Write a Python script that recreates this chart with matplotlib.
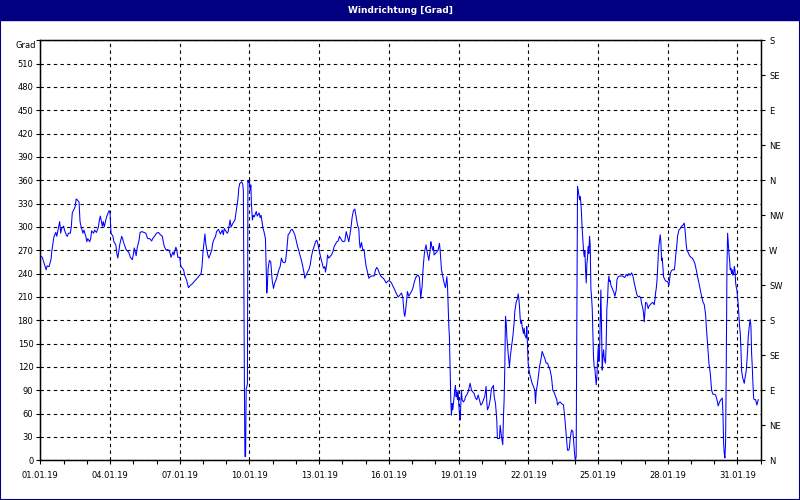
import numpy as np
import pandas as pd
import matplotlib
matplotlib.use("Agg")
import matplotlib.pyplot as plt
from matplotlib.patches import Rectangle
from matplotlib.ticker import MultipleLocator

# wind direction: hours since 01.01.19 00:00 -> degrees
hours_a = [0, 2, 5, 6, 7, 9, 11, 12, 14, 16, 17, 19, 20, 21, 22, 24, 25, 27, 28, 29,
           31, 32, 33, 36, 37, 38, 40, 41, 42, 44, 45, 47, 48, 49, 51, 52, 53, 55, 56, 58,
           60, 61, 62, 64, 65, 66, 68, 69, 71, 72, 73, 75, 76, 78, 79, 80, 81, 82, 84, 85,
           86, 88, 89, 91, 92, 93, 95, 96, 97, 99, 100, 102, 103, 105, 107, 109, 110, 111, 113, 115,
           116, 118, 120, 122, 124, 126, 127, 128, 130, 131, 133, 134, 135, 137, 138, 140, 141, 142, 144, 145,
           146, 148, 149, 151, 153, 155, 157, 159, 162, 164, 166, 167, 168, 170, 171, 173, 174, 175, 177, 178,
           179, 181, 182, 184]
grad_a = [263, 261, 249, 245, 250, 249, 258, 270, 287, 293, 288, 301, 307, 292, 298, 301, 296, 289, 288, 292,
          292, 300, 318, 326, 336, 335, 332, 307, 301, 292, 296, 288, 281, 285, 281, 285, 295, 292, 296, 293,
          300, 309, 314, 301, 307, 300, 311, 315, 321, 318, 292, 288, 281, 277, 266, 260, 268, 277, 288, 285,
          280, 273, 270, 268, 265, 261, 258, 264, 273, 263, 273, 283, 293, 294, 293, 292, 288, 285, 285, 282,
          285, 288, 292, 293, 290, 288, 281, 275, 270, 271, 270, 266, 261, 268, 264, 274, 270, 261, 261, 250,
          248, 245, 238, 232, 222, 225, 227, 230, 234, 237, 240, 249, 268, 291, 277, 264, 260, 263, 270, 279,
          283, 288, 294, 297]

hours_b = [186, 188, 189, 190, 193, 194, 196, 197, 199, 201, 202, 204, 205, 206, 208, 209, 209.7, 210.8, 211.3, 212.0,
           212.6, 213.4, 213.9, 214.4, 215.3, 216.0, 216.7, 217.4, 218, 219, 220, 221, 223, 224, 226, 227, 228, 230, 231, 232.5,
           233.2, 233.9, 234.6, 235.3, 236.6, 238.0, 239.4, 240.8, 242.1, 243.5, 244.9, 246.3, 247.7, 249.0, 250.4, 251.8, 253.2, 254.5, 255.9, 257.3,
           258.7, 260.1, 261.4, 262.8, 264.2, 265.6, 266.9, 268.3, 269.7, 271.1, 272.5, 273.1, 274.5, 275.9, 277.3, 278.7, 280.0, 281.4, 282.8, 284.2,
           285.5, 286.9, 288.3, 289.7, 291.1, 292.4, 293.8, 294.5, 295.9, 296.6, 297.9, 299.3, 300.7, 302.1, 303.5, 304.8, 306.2, 307.6, 309.0, 310.3,
           311.7, 313.1, 314.5, 315.9, 317.2, 318.6, 320.0, 320.7, 322.1, 323.4, 324.8, 326.2, 327.6, 328.9, 329.6, 330.3, 331.7, 333.1, 334.4, 335.1,
           336.5, 337.9, 339.3, 340.6, 342.0, 343.4, 344.8, 346.2, 347.5, 348.9, 350.3, 351.7, 353.0, 354.4, 355.8, 357.2, 358.6, 359.9, 361.3, 362.7,
           364.1, 365.4, 366.8, 368.2, 369.6]
grad_b = [291, 296, 290, 298, 292, 294, 309, 300, 305, 309, 318, 335, 350, 356, 358, 355, 347, 92, 5, 5,
          92, 95, 99, 359, 357, 359, 347, 354, 330, 309, 315, 313, 320, 314, 318, 312, 315, 298, 294, 285,
          249, 215, 228, 247, 257, 255, 232, 221, 228, 232, 238, 245, 249, 260, 255, 254, 255, 270, 290, 292,
          296, 297, 294, 290, 283, 275, 270, 263, 257, 249, 240, 234, 238, 242, 245, 251, 262, 270, 275, 281,
          283, 277, 268, 260, 253, 247, 249, 242, 253, 264, 260, 262, 264, 268, 275, 278, 281, 282, 288, 285,
          282, 281, 282, 294, 288, 281, 292, 298, 313, 321, 323, 313, 302, 298, 281, 273, 280, 270, 271, 262,
          249, 242, 234, 236, 237, 237, 237, 245, 248, 245, 240, 237, 235, 234, 231, 228, 230, 231, 230, 228,
          224, 221, 217, 213, 210]

hours_c = [371.6, 373.0, 374.3, 375.7, 376.4, 377.1, 378.5, 379.1, 380.5, 381.9, 383.3, 384.7, 386.0, 387.4, 388.8, 390.2, 391.5, 392.2, 392.9, 393.6,
           394.3, 395.0, 395.7, 396.4, 397.1, 398.4, 399.1, 400.5, 401.2, 402.6, 403.3, 403.9, 405.3, 406.0, 406.7, 408.1, 409.5, 410.8, 412.2, 412.9,
           413.6, 414.3, 415.7, 417.0, 417.7, 418.4, 419.1, 419.8, 420.5, 421.2, 421.9, 422.5, 423.2, 423.9, 424.6, 425.3, 426.0, 426.7, 427.4, 428.0,
           428.7, 429.4, 430.1, 430.8, 431.5, 432.2, 432.9, 433.6, 434.2, 434.9, 435.6, 437.0, 438.4, 439.1, 440.4, 441.8, 443.2, 443.9, 445.3, 446.6,
           448.0, 449.4, 450.8, 452.2, 453.5, 454.9, 456.3, 457.7, 459.0, 460.4, 461.1, 461.8, 463.2, 464.6, 465.9, 467.3, 468.0, 468.7, 470.1, 471.4,
           472.1, 473.5, 474.2, 474.9, 476.3, 477.6, 478.3, 479.0, 479.7, 480.4, 481.1, 481.8, 483.2, 484.5, 485.2, 486.6, 488.0, 489.4, 490.0, 491.4,
           492.8, 493.5, 494.2, 494.9, 495.6, 496.2, 496.9, 497.6, 499.0, 499.7, 500.4, 501.8, 502.4, 503.1, 503.8, 505.2, 506.6, 507.9, 509.3, 510.7,
           511.4, 512.1, 513.5, 514.1, 515.5, 516.9, 518.3, 519.7, 521.0, 522.4, 523.8, 525.2, 526.5, 527.9, 529.3, 530.7, 532.1, 533.4, 534.1, 535.5,
           536.9, 538.3, 540.3, 541.7, 542.4, 543.8, 544.5, 545.8, 546.5, 547.2, 548.6, 550.0, 550.7, 551.3, 552.0, 552.7, 553.4, 554.1, 554.8, 555.5]
grad_c = [213, 215, 210, 189, 185, 191, 208, 217, 211, 214, 217, 221, 228, 234, 237, 238, 235, 222, 208, 217,
          223, 240, 253, 263, 270, 277, 270, 262, 257, 270, 281, 277, 270, 275, 264, 266, 268, 270, 279, 270,
          257, 245, 236, 228, 225, 222, 228, 236, 225, 200, 172, 159, 116, 78, 58, 73, 65, 73, 82, 90,
          96, 82, 88, 78, 90, 71, 60, 52, 69, 90, 78, 75, 78, 82, 84, 88, 95, 99, 90, 88,
          86, 80, 78, 84, 78, 71, 73, 78, 82, 95, 75, 65, 69, 78, 92, 95, 96, 82, 73, 52,
          28, 28, 28, 45, 30, 20, 56, 78, 120, 185, 178, 159, 137, 120, 131, 146, 159, 178, 191, 203,
          208, 214, 208, 197, 182, 176, 180, 172, 163, 170, 161, 157, 172, 150, 125, 112, 105, 99, 95, 90,
          73, 88, 99, 105, 120, 129, 140, 135, 131, 125, 125, 120, 116, 107, 90, 87, 82, 78, 71, 74,
          75, 73, 71, 54, 43, 22, 13, 13, 17, 28, 39, 37, 26, 17, 5, 0, 5, 185, 352, 347]

hours_d = [556.9, 557.6, 558.3, 558.9, 559.6, 560.3, 561.0, 561.7, 562.4, 563.1, 563.8, 564.5, 565.1, 565.8, 566.5, 567.2, 567.9, 568.6, 569.3, 570.0,
           570.7, 571.3, 572.0, 572.7, 573.4, 574.1, 574.8, 575.5, 576.2, 576.9, 577.5, 578.2, 578.9, 579.6, 580.3, 581.0, 581.7, 582.4, 583.1, 583.7,
           584.4, 585.1, 585.8, 586.5, 587.2, 587.9, 588.6, 589.3, 590.6, 592.0, 593.4, 594.8, 595.5, 596.8, 598.2, 599.6, 601.0, 602.3, 603.7, 605.1,
           606.5, 607.8, 609.2, 610.6, 612.0, 613.4, 614.7, 616.1, 617.5, 618.9, 620.2, 620.9, 622.3, 623.0, 623.7, 624.4, 625.1, 626.4, 627.8, 628.5,
           629.9, 631.3, 632.6, 634.0, 634.7, 635.4, 636.1, 636.8, 637.5, 638.2, 638.8, 639.5, 640.2, 640.9, 641.6, 642.3, 643.0, 643.7, 645.0, 646.4,
           647.8, 649.2, 649.9, 650.6, 651.9, 653.3, 654.7, 655.4, 656.1, 656.8, 657.4, 658.1, 658.8, 659.5, 660.9, 662.3, 663.6, 665.0, 665.7, 666.4,
           667.1, 667.8, 669.2, 670.5, 671.9, 673.3, 674.7, 676.0, 677.4, 678.8, 680.2, 681.6, 682.9, 684.3, 685.7, 687.1, 687.8, 689.1, 690.5, 691.9,
           693.3, 694.6, 696.0, 697.4, 698.8, 700.1, 701.5, 702.9, 704.3, 705.0, 705.7, 706.3, 707.0, 707.7, 708.4, 709.1, 709.8, 710.5, 711.2, 711.9,
           712.5, 713.2, 713.9, 714.6, 715.3, 716.0, 716.7, 717.4, 718.1, 718.7, 719.4, 720.1, 720.8, 721.5, 722.2, 722.9, 723.6, 724.3, 725.6, 727.0,
           727.7, 729.1, 729.8, 730.5, 731.1, 731.8, 732.5, 733.2, 733.9, 734.6, 735.3, 736.0, 736.7, 737.3, 738.7, 740.1, 740.8, 741.5]
grad_d = [335, 339, 330, 317, 298, 285, 270, 262, 270, 245, 228, 253, 260, 275, 266, 288, 277, 221, 210, 195,
          159, 133, 120, 118, 107, 97, 107, 129, 146, 127, 137, 180, 219, 172, 116, 133, 142, 131, 127, 125,
          150, 195, 206, 228, 237, 230, 231, 225, 221, 217, 211, 219, 232, 236, 237, 237, 237, 236, 235, 239,
          237, 240, 238, 241, 237, 228, 221, 213, 210, 211, 208, 202, 195, 189, 178, 191, 203, 202, 195, 198,
          200, 202, 203, 200, 206, 215, 221, 230, 245, 264, 275, 282, 290, 281, 257, 260, 247, 236, 232, 230,
          230, 225, 232, 240, 244, 245, 245, 251, 262, 270, 277, 288, 292, 296, 298, 301, 302, 305, 298, 288,
          277, 270, 267, 263, 261, 260, 257, 253, 245, 236, 228, 219, 211, 204, 200, 187, 172, 150, 125, 112,
          90, 85, 85, 84, 78, 70, 75, 78, 80, 60, 22, 9, 3, 22, 116, 245, 292, 279, 266, 257,
          245, 247, 240, 245, 238, 240, 249, 245, 228, 223, 219, 210, 200, 185, 172, 163, 142, 114, 105, 99,
          105, 116, 129, 142, 159, 168, 176, 181, 172, 137, 120, 97, 80, 78, 78, 71, 75, 78]

hours = hours_a + hours_b + hours_c + hours_d
grad = grad_a + grad_b + grad_c + grad_d
assert len(hours) == len(grad), (len(hours), len(grad))

date_labels = pd.date_range("2019-01-01", "2019-01-31", freq="3D").strftime("%d.%m.%y")
compass = ["N", "NE", "E", "SE", "S", "SW", "W", "NW", "N", "NE", "E", "SE", "S"]

navy = "#000080"
days = np.array(hours) / 24.0

fig = plt.figure(figsize=(8, 5), dpi=100)
fig.patch.set_facecolor("white")
ax = fig.add_axes([0.0504, 0.0794, 0.9005, 0.84])

ax.plot(days, grad, color="#0000FF", lw=0.75, zorder=3)

ax.set_xlim(0, 31)
ax.set_ylim(0, 540)
ax.set_xticks(np.arange(0, 31, 3))
ax.set_xticklabels(date_labels)
ax.xaxis.set_minor_locator(MultipleLocator(1))
yt = np.arange(0, 541, 30)
ax.set_yticks(yt)
ax.set_yticklabels([str(v) for v in yt[:-1]] + [""])
ax.grid(True, which="major", color="black", linestyle=(0, (3, 3)), linewidth=0.8)
ax.tick_params(which="both", direction="out", length=3, width=0.8, labelsize=6, pad=2, colors="black")
ax.tick_params(axis="x", pad=5)
for s in ax.spines.values():
    s.set_linewidth(1.0)

ax2 = ax.twinx()
ax2.set_ylim(0, 540)
ax2.set_yticks(np.arange(0, 541, 45))
ax2.set_yticklabels(compass)
ax2.tick_params(direction="out", length=3, width=0.8, labelsize=6, pad=3)

fig.text(0.045, 0.91, "Grad", ha="right", va="center", fontsize=6)

# title bar + window frame
fig.add_artist(Rectangle((0, 0.96), 1, 0.04, transform=fig.transFigure, color=navy, zorder=0))
fig.text(0.5, 0.979, "Windrichtung [Grad]", color="white", weight="bold",
         ha="center", va="center", fontsize=6.5)
fig.add_artist(Rectangle((0, 0), 1, 1, transform=fig.transFigure, fill=False,
                         edgecolor=navy, lw=1.5))

fig.savefig("out.png", dpi=100)
